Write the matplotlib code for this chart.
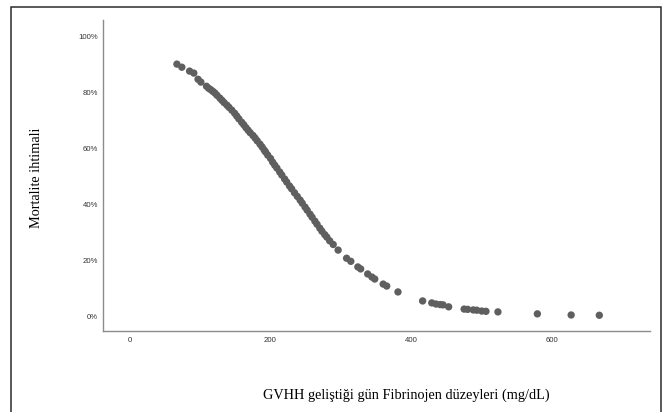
import matplotlib
matplotlib.use("Agg")
import matplotlib.pyplot as plt
from matplotlib.patches import Rectangle

# Fibrinojen (mg/dL) and the predicted mortality probability (%)
fibrinojen = [
    67, 74, 85, 91, 97, 101, 109, 112,
    115, 118, 121, 124, 128, 131, 134, 138, 141, 145, 149, 152, 155, 159,
    162, 165, 168, 171, 175, 178, 181, 185, 188, 191, 193, 196, 200, 203,
    206, 209, 213, 216, 220, 223, 227, 230, 234, 238, 242, 245, 249, 252,
    256, 259, 263, 266, 270, 273, 277, 280, 284, 289, 296,
    308, 314, 324, 328, 338, 344, 348, 360, 365, 381,
    416, 429, 435, 441, 445, 453, 475, 480, 488, 493, 500, 506, 523,
    579, 627, 667,
]
mortalite = [
    90.0, 88.9, 87.5, 86.8, 84.6, 83.6, 82.1, 81.4,
    80.9, 80.3, 79.7, 78.9, 77.9, 77.1, 76.3, 75.4, 74.6, 73.6, 72.5, 71.5, 70.5, 69.3,
    68.4, 67.4, 66.5, 65.6, 64.6, 63.7, 62.7, 61.5, 60.5, 59.4, 58.7, 57.6, 56.4, 55.1,
    54.0, 53.0, 51.6, 50.5, 49.1, 48.0, 46.6, 45.6, 44.2, 42.9, 41.6, 40.5, 39.1, 38.0,
    36.6, 35.5, 34.1, 33.0, 31.6, 30.5, 29.3, 28.4, 27.1, 25.8, 23.8,
    20.9, 19.8, 17.8, 17.1, 15.3, 14.2, 13.5, 11.7, 11.0, 8.9,
    5.7, 5.0, 4.6, 4.4, 4.3, 3.6, 2.8, 2.7, 2.5, 2.4, 2.1, 2.0, 1.8,
    1.1, 0.7, 0.6,
]

x_ticks = [0, 200, 400, 600]
y_ticks = [0, 20, 40, 60, 80, 100]
y_tick_labels = ["0%", "20%", "40%", "60%", "80%", "100%"]

fig = plt.figure(figsize=(6.64, 4.12), dpi=100)
fig.patch.set_facecolor("white")

# outer frame of the pasted image
fig.patches.append(Rectangle((11 / 664, -0.05), 650 / 664, 1.05 - 7 / 412,
                             transform=fig.transFigure, fill=False,
                             edgecolor="#2b2b2b", linewidth=1.1))

ax = fig.add_axes([103 / 664, 1 - 331 / 412, (650 - 103) / 664, (331 - 20) / 412])
ax.scatter(fibrinojen, mortalite, s=28, color="#5f5f5f", edgecolors="none", zorder=3)

ax.set_xlim(-38, 739)
ax.set_ylim(-5, 105.7)
ax.set_xticks(x_ticks)
ax.set_xticklabels([str(v) for v in x_ticks])
ax.set_yticks(y_ticks)
ax.set_yticklabels(y_tick_labels)
ax.tick_params(length=0, labelsize=5.6, labelcolor="#333333")
ax.tick_params(axis="y", pad=3.6)
ax.tick_params(axis="x", pad=4.3)
for lab in ax.get_xticklabels() + ax.get_yticklabels():
    lab.set_family("Liberation Sans")

for side in ["top", "right"]:
    ax.spines[side].set_visible(False)
for side in ["left", "bottom"]:
    ax.spines[side].set_color("#8c8c8c")
    ax.spines[side].set_linewidth(1.0)

# axis titles placed as in the original
fig.text(36 / 664, 1 - 178 / 412, "Mortalite ihtimali", rotation=90,
         ha="center", va="center", fontsize=10.3, family="Liberation Serif")
fig.text(406 / 664, 1 - 395 / 412, "GVHH geliştiği gün Fibrinojen düzeyleri (mg/dL)",
         ha="center", va="center", fontsize=10.3, family="Liberation Serif")

plt.savefig("out.png", dpi=100)
plt.close()
